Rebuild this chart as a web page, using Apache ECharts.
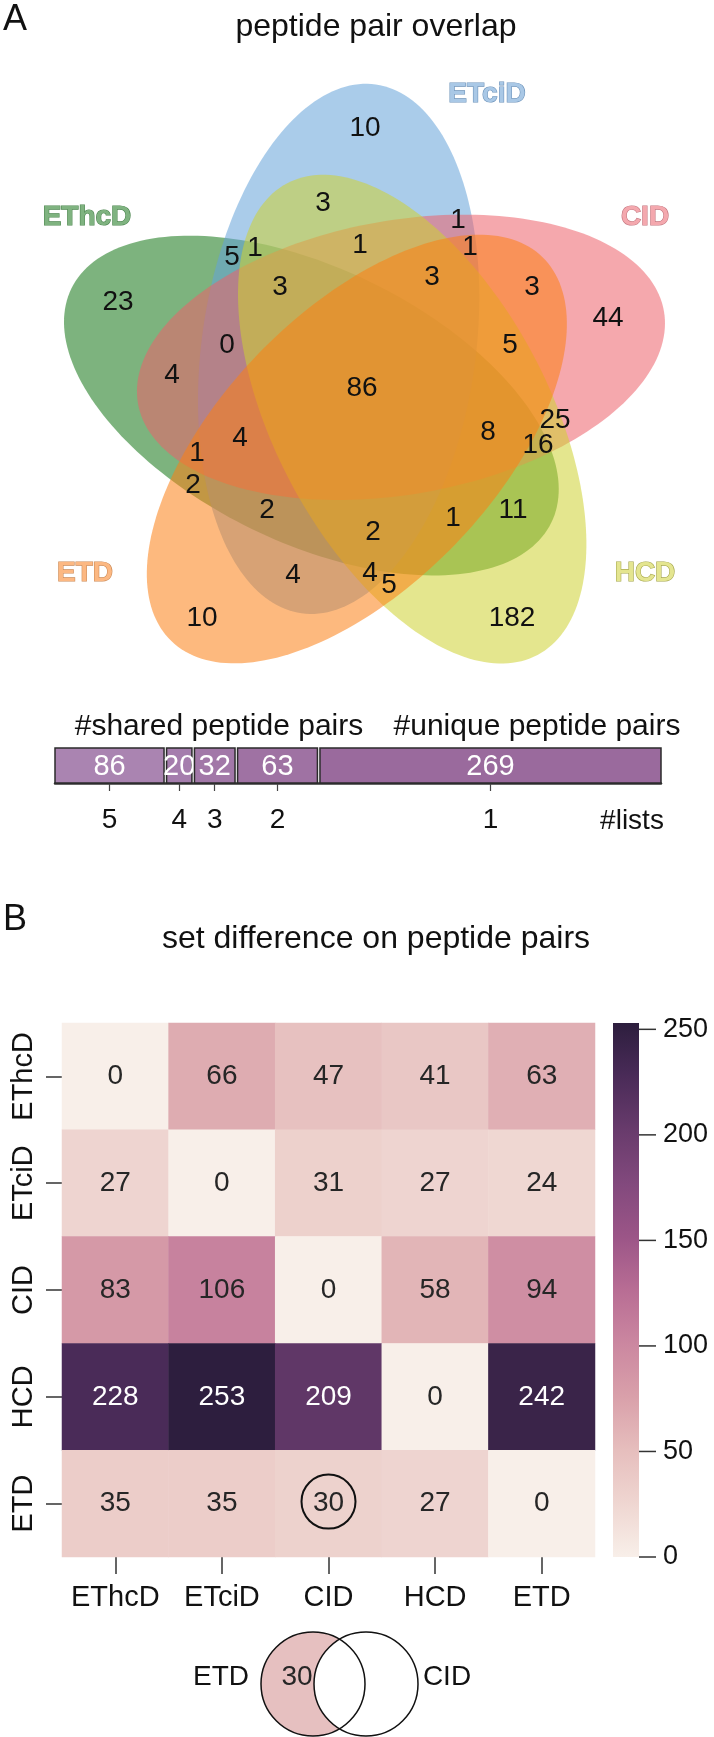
<!DOCTYPE html>
<html>
<head>
<meta charset="utf-8">
<script src="https://cdn.jsdelivr.net/npm/echarts@6/dist/echarts.min.js"></script>
<style>
html,body{margin:0;padding:0;background:#ffffff;}
#main{width:714px;height:1737px;}
</style>
</head>
<body>
<div id="main"></div>
<script>
// ================= DATA =================
const setNames = ['EThcD', 'ETciD', 'CID', 'HCD', 'ETD'];
// counts of the 31 Venn regions (panel A), in reading order top -> bottom
const vennCounts = [10, 3, 1, 5, 1, 1, 1, 3, 3, 3, 23, 44, 0, 5, 4, 86, 25, 8, 16, 4, 1, 2, 2, 1, 11, 2, 4, 4, 5, 10, 182];
// shared / unique peptide pairs by number of lists
const listCounts = [5, 4, 3, 2, 1];
const pairCounts = [86, 20, 32, 63, 269];
// set difference matrix (row minus column), panel B
const diffEThcD = [0, 66, 47, 41, 63];
const diffETciD = [27, 0, 31, 27, 24];
const diffCID = [83, 106, 0, 58, 94];
const diffHCD = [228, 253, 209, 0, 242];
const diffETD = [35, 35, 30, 27, 0];
const colorbarTicks = [0, 50, 100, 150, 200, 250];
const exampleFrom = 'ETD';
const exampleMinus = 'CID';

// ================= LAYOUT / STYLE =================
const FONT = "'Liberation Sans', Arial, Helvetica, sans-serif";
const vennGeom = { cx: 364, cy: 396, d: 53.5, theta0: -118.3, psi0: 8, a: 137, b: 267, alpha: 0.55 };
const ringPos = [4, 0, 1, 2, 3];               // position of each set on the 5-fold ring
const setFill = ['#137514', '#64a2d9', '#ec616a', '#ced232', '#fb8014'];
const setLabelFill = ['#7fb380', '#a9c8e6', '#f4a8ae', '#e4e590', '#fcb882'];
const setLabelStroke = ['#4d8750', '#6d93ba', '#c47780', '#a6a74e', '#cc8b58'];
const setLabelAnchors = [[87, 217], [487, 94], [645, 217], [645, 573], [85, 573]];
const regionAnchors = [
  [365, 128], [323, 203], [458, 220], [232, 257], [255, 248], [360, 245], [470, 247],
  [280, 287], [432, 277], [532, 287], [118, 302], [608, 318], [227, 345], [510, 345],
  [172, 375], [362, 388], [555, 420], [488, 432], [538, 445], [240, 438], [197, 453],
  [193, 485], [267, 510], [453, 518], [513, 510], [373, 532], [293, 575], [370, 573],
  [389, 585], [202, 618], [512, 618]
];
const barFill = ['#aa84b1', '#a57dad', '#a278a8', '#9f72a3', '#9a6a9d'];
const heatPalette = ['#f8efe9', '#efd6d1', '#e6bebd', '#d9a0aa', '#cb87a0', '#b86d94',
                     '#9b5587', '#82497d', '#683b6c', '#4a2b58', '#2d1e3e'];
const smallVenn = { cx1: 313, cx2: 366, cy: 1684, r: 52, textY: 1677, leftX: 221, valX: 297, rightX: 447, fill: '#e6c0c0' };

function hexToRgba(h, a) {
  const n = parseInt(h.slice(1), 16);
  return 'rgba(' + ((n >> 16) & 255) + ',' + ((n >> 8) & 255) + ',' + (n & 255) + ',' + a + ')';
}

// derived
const diffMatrix = [diffEThcD, diffETciD, diffCID, diffHCD, diffETD];
const heatData = [];
diffMatrix.forEach((row, r) => row.forEach((v, c) => {
  heatData.push({ value: [c, r, v], label: { color: v > 150 ? '#ffffff' : '#262626' } });
}));
const heatMax = Math.max.apply(null, diffMatrix.map(r => Math.max.apply(null, r)));
const gapUnits = 2;
const barStarts = [];
let acc = 0;
pairCounts.forEach(c => { barStarts.push(acc); acc += c + gapUnits; });
const barMax = acc - gapUnits;
const barCenters = pairCounts.map((c, i) => barStarts[i] + c / 2);
const exampleValue = diffMatrix[setNames.indexOf(exampleFrom)][setNames.indexOf(exampleMinus)];

const chart = echarts.init(document.getElementById('main'), null, { renderer: 'canvas' });

function txt(text, x, y, size, opts) {
  opts = opts || {};
  return {
    type: 'text', x: x, y: y, silent: true,
    style: {
      text: text, fill: opts.fill || '#111111',
      font: (opts.weight || 'normal') + ' ' + size + 'px ' + FONT,
      align: opts.align || 'center', verticalAlign: 'middle'
    }
  };
}

const option = {
  backgroundColor: '#ffffff',
  animation: false,
  grid: [
    { left: 0, top: 0, width: 714, height: 1737, containLabel: false, outerBoundsMode: 'none' },
    { left: 55, top: 748, width: 606, height: 35, containLabel: false, outerBoundsMode: 'none' },
    { left: 62, top: 1023, width: 533, height: 534, containLabel: false, outerBoundsMode: 'none' },
    { left: 613, top: 1023, width: 26, height: 534, containLabel: false, outerBoundsMode: 'none' }
  ],
  xAxis: [
    { gridIndex: 0, type: 'value', min: 0, max: 714, show: false },
    {
      gridIndex: 1, type: 'value', min: 0, max: barMax, offset: 8,
      axisLine: { show: true, lineStyle: { color: '#333333', width: 2.5 } },
      axisTick: { show: true, customValues: barCenters, length: 8, lineStyle: { color: '#444444', width: 1.2 } },
      axisLabel: {
        show: true, customValues: barCenters, margin: 15, fontSize: 28, fontFamily: FONT, color: '#111111',
        formatter: function (v) {
          let best = 0;
          barCenters.forEach((c, i) => { if (Math.abs(c - v) < Math.abs(barCenters[best] - v)) best = i; });
          return String(listCounts[best]);
        }
      },
      splitLine: { show: false }
    },
    {
      gridIndex: 2, type: 'category', data: setNames,
      axisLine: { show: false },
      axisTick: { show: true, interval: 0, alignWithLabel: true, length: 17, lineStyle: { color: '#333333', width: 1.5 } },
      axisLabel: { interval: 0, margin: 26, fontSize: 29, fontFamily: FONT, color: '#111111' },
      splitLine: { show: false }, splitArea: { show: false }
    },
    { gridIndex: 3, type: 'value', min: 0, max: 1, show: false }
  ],
  yAxis: [
    { gridIndex: 0, type: 'value', min: 0, max: 1737, inverse: true, show: false },
    { gridIndex: 1, type: 'value', min: 0, max: 1, show: false },
    {
      gridIndex: 2, type: 'category', data: setNames, inverse: true,
      axisLine: { show: false },
      axisTick: { show: true, interval: 0, alignWithLabel: true, length: 16, lineStyle: { color: '#333333', width: 1.5 } },
      axisLabel: { interval: 0, margin: 24, rotate: 90, fontSize: 29, fontFamily: FONT, color: '#111111' },
      splitLine: { show: false }, splitArea: { show: false }
    },
    {
      gridIndex: 3, type: 'value', min: 0, max: heatMax, position: 'right',
      axisLine: { show: false },
      axisTick: { show: false },
      axisLabel: { show: true, customValues: colorbarTicks, margin: 24, fontSize: 27, fontFamily: FONT, color: '#111111' },
      splitLine: { show: false }
    }
  ],
  visualMap: [{
    show: false, type: 'continuous', min: 0, max: heatMax, dimension: 2, seriesIndex: 5,
    inRange: { color: heatPalette }
  }],
  graphic: [
    txt('A', 15, 20, 36),
    txt('peptide pair overlap', 376, 27, 32),
    txt('#shared peptide pairs', 219, 727, 30),
    txt('#unique peptide pairs', 537, 727, 30),
    txt('#lists', 632, 821, 28),
    txt('B', 15, 920, 36),
    txt('set difference on peptide pairs', 376, 939, 32)
  ],
  series: [
    // 0: Venn ellipses
    {
      type: 'custom', xAxisIndex: 0, yAxisIndex: 0, silent: true, z: 1,
      data: setNames.map((n, i) => [i]),
      renderItem: function (params, api) {
        const i = params.dataIndex, k = ringPos[i], g = vennGeom;
        const th = (g.theta0 + 72 * k) * Math.PI / 180;
        const cx = g.cx + g.d * Math.cos(th), cy = g.cy + g.d * Math.sin(th);
        const ps = (g.psi0 + 72 * k) * Math.PI / 180;
        const ux = Math.sin(ps), uy = -Math.cos(ps), vx = Math.cos(ps), vy = Math.sin(ps);
        const pts = [];
        for (let s = 0; s < 200; s++) {
          const t = s / 200 * 2 * Math.PI;
          const x = cx + g.b * Math.sin(t) * ux + g.a * Math.cos(t) * vx;
          const y = cy + g.b * Math.sin(t) * uy + g.a * Math.cos(t) * vy;
          pts.push(api.coord([x, y]));
        }
        return { type: 'polygon', shape: { points: pts }, style: { fill: hexToRgba(setFill[i], g.alpha), stroke: null } };
      }
    },
    // 1: Venn region counts
    {
      type: 'custom', xAxisIndex: 0, yAxisIndex: 0, silent: true, z: 5,
      data: vennCounts.map((v, i) => [regionAnchors[i][0], regionAnchors[i][1], v]),
      renderItem: function (params, api) {
        const p = api.coord([api.value(0), api.value(1)]);
        return { type: 'text', x: p[0], y: p[1], style: { text: String(api.value(2)), fill: '#111111', font: '28px ' + FONT, align: 'center', verticalAlign: 'middle' } };
      }
    },
    // 2: set labels
    {
      type: 'custom', xAxisIndex: 0, yAxisIndex: 0, silent: true, z: 5,
      data: setNames.map((n, i) => [setLabelAnchors[i][0], setLabelAnchors[i][1], i]),
      renderItem: function (params, api) {
        const i = params.dataIndex;
        const p = api.coord([api.value(0), api.value(1)]);
        return { type: 'text', x: p[0], y: p[1], style: { text: setNames[i], fill: setLabelFill[i], stroke: setLabelStroke[i], lineWidth: 1.2, font: 'bold 28px ' + FONT, align: 'center', verticalAlign: 'middle' } };
      }
    },
    // 3: shared/unique bar
    {
      type: 'custom', xAxisIndex: 1, yAxisIndex: 1, silent: true, z: 3,
      data: pairCounts.map((c, i) => [barStarts[i], barStarts[i] + c, c]),
      encode: { x: [0, 1] },
      renderItem: function (params, api) {
        const i = params.dataIndex;
        const p0 = api.coord([api.value(0), 1]);
        const p1 = api.coord([api.value(1), 0]);
        return {
          type: 'group', children: [
            { type: 'rect', shape: { x: p0[0], y: p0[1], width: p1[0] - p0[0], height: p1[1] - p0[1] }, style: { fill: barFill[i], stroke: '#2b2b2b', lineWidth: 1.5 } },
            { type: 'text', x: (p0[0] + p1[0]) / 2, y: (p0[1] + p1[1]) / 2 + 1, style: { text: String(api.value(2)), fill: '#ffffff', font: '29px ' + FONT, align: 'center', verticalAlign: 'middle' } }
          ]
        };
      }
    },
    // 4: colorbar with its tick marks
    {
      type: 'custom', xAxisIndex: 3, yAxisIndex: 3, silent: true, z: 2,
      data: [[0, heatMax]],
      renderItem: function (params, api) {
        const p0 = api.coord([0, api.value(1)]);
        const p1 = api.coord([1, 0]);
        const stops = heatPalette.map((c, i) => ({ offset: i / (heatPalette.length - 1), color: c }));
        const children = [
          { type: 'rect', shape: { x: p0[0], y: p0[1], width: p1[0] - p0[0], height: p1[1] - p0[1] }, style: { fill: new echarts.graphic.LinearGradient(0, 1, 0, 0, stops) } }
        ];
        colorbarTicks.forEach(v => {
          const q = api.coord([1, v]);
          children.push({ type: 'line', shape: { x1: q[0], y1: q[1], x2: q[0] + 17, y2: q[1] }, style: { stroke: '#333333', lineWidth: 1.5 } });
        });
        return { type: 'group', children: children };
      }
    },
    // 5: heatmap
    {
      type: 'heatmap', xAxisIndex: 2, yAxisIndex: 2, z: 2,
      data: heatData,
      itemStyle: { borderWidth: 0 },
      label: { show: true, fontSize: 28, fontFamily: FONT, formatter: function (p) { return String(p.value[2]); } },
      emphasis: { disabled: true }
    },
    // 6: highlight circle on the example cell
    {
      type: 'custom', xAxisIndex: 2, yAxisIndex: 2, silent: true, z: 6,
      data: [[setNames.indexOf(exampleMinus), setNames.indexOf(exampleFrom)]],
      renderItem: function (params, api) {
        const p = api.coord([api.value(0), api.value(1)]);
        return { type: 'circle', shape: { cx: p[0], cy: p[1] - 2, r: 27 }, style: { fill: null, stroke: '#111111', lineWidth: 2 } };
      }
    },
    // 7: small two-set Venn example
    {
      type: 'custom', xAxisIndex: 0, yAxisIndex: 0, silent: true, z: 4,
      data: [[exampleValue]],
      renderItem: function (params, api) {
        const s = smallVenn;
        const c1 = api.coord([s.cx1, s.cy]), c2 = api.coord([s.cx2, s.cy]);
        const t = api.coord([0, s.textY]);
        return {
          type: 'group', children: [
            { type: 'circle', shape: { cx: c1[0], cy: c1[1], r: s.r }, style: { fill: s.fill, stroke: null } },
            { type: 'circle', shape: { cx: c2[0], cy: c2[1], r: s.r }, style: { fill: '#ffffff', stroke: '#111111', lineWidth: 1.5 } },
            { type: 'circle', shape: { cx: c1[0], cy: c1[1], r: s.r }, style: { fill: null, stroke: '#111111', lineWidth: 1.5 } },
            { type: 'text', x: api.coord([s.leftX, 0])[0], y: t[1], style: { text: exampleFrom, fill: '#111111', font: '28px ' + FONT, align: 'center', verticalAlign: 'middle' } },
            { type: 'text', x: api.coord([s.valX, 0])[0], y: t[1], style: { text: String(api.value(0)), fill: '#262626', font: '28px ' + FONT, align: 'center', verticalAlign: 'middle' } },
            { type: 'text', x: api.coord([s.rightX, 0])[0], y: t[1], style: { text: exampleMinus, fill: '#111111', font: '28px ' + FONT, align: 'center', verticalAlign: 'middle' } }
          ]
        };
      }
    }
  ]
};
chart.setOption(option);
</script>
</body>
</html>
